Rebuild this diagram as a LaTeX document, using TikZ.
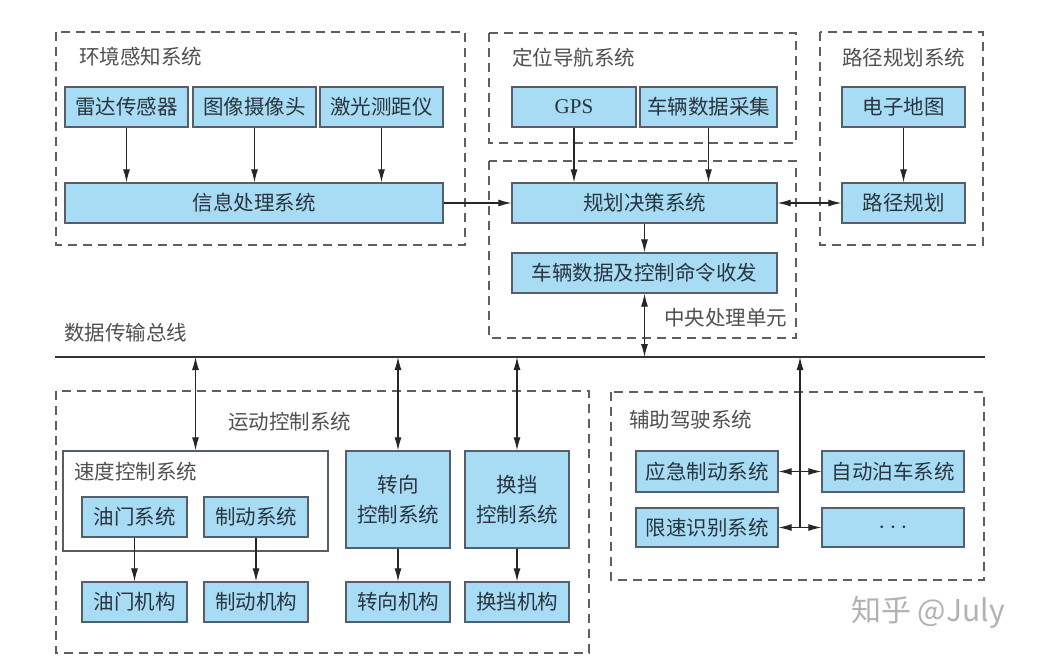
\documentclass[tikz,border=0pt]{standalone}
\usepackage{fontspec}
\setmainfont{Noto Sans CJK SC}
\newfontfamily\cjk{Noto Sans CJK SC}
\newfontfamily\serifgps{Liberation Serif}
\usetikzlibrary{arrows.meta}
\definecolor{boxfill}{RGB}{168,220,244}
\definecolor{boxline}{RGB}{85,95,105}
\definecolor{txt}{RGB}{40,52,62}
\definecolor{ttl}{RGB}{80,80,80}
\definecolor{dashc}{RGB}{95,95,95}
\tikzset{
  box/.style={draw=boxline, fill=boxfill, line width=1.3pt, inner sep=0pt, text=txt,
    font=\cjk\fontsize{20.5}{24}\selectfont, align=center},
  plainbox/.style={draw=boxline, fill=white, line width=1.3pt},
  group/.style={draw=dashc, line width=1.4pt, dash pattern=on 9pt off 6pt},
  ttlabel/.style={anchor=west, inner sep=0pt, text=ttl, font=\cjk\fontsize{20.5}{24}\selectfont},
  conn/.style={draw=black!85, line width=1.1pt, >={Latex[length=13pt,width=7pt]}},
  bus/.style={draw=black!80, line width=2.6pt}
}
\begin{document}
\begin{tikzpicture}[x=1pt,y=-1pt]
\useasboundingbox[fill=white] (0,0) rectangle (1041,660);

% dashed group frames
\draw[group] (56,32) rectangle (465,245);
\draw[group] (489,33) rectangle (796,143);
\draw[group] (489,161) rectangle (796,338);
\draw[group] (820,32) rectangle (983,245);
\draw[group] (56,391) rectangle (589,653);
\draw[group] (611,392) rectangle (984,580);

% group titles
\node[ttlabel] (tenv) at (79,57) {环境感知系统};
\node[ttlabel] (tloc) at (512,58) {定位导航系统};
\node[ttlabel] (tpath) at (842,58) {路径规划系统};
\node[ttlabel] (tcpu) at (664,318) {中央处理单元};
\node[ttlabel] (tbus) at (64,333) {数据传输总线};
\node[ttlabel] (tmot) at (228,422) {运动控制系统};
\node[ttlabel] (tass) at (629,420) {辅助驾驶系统};

% environment perception
\node[box, minimum width=123pt, minimum height=40pt] (radar) at (126.5,107) {雷达传感器};
\node[box, minimum width=123pt, minimum height=40pt] (camera) at (254.5,107) {图像摄像头};
\node[box, minimum width=123pt, minimum height=40pt] (lidar) at (381.5,107) {激光测距仪};
\node[box, minimum width=378pt, minimum height=40pt] (info) at (254,203) {信息处理系统};

% positioning / navigation
\node[box, minimum width=124pt, minimum height=40pt, font=\serifgps\fontsize{21}{24}\selectfont] (gps) at (574,107) {GPS};
\node[box, minimum width=137pt, minimum height=40pt] (vdata) at (708.5,107) {车辆数据采集};

% central processing
\node[box, minimum width=265pt, minimum height=40pt] (plan) at (644.5,203) {规划决策系统};
\node[box, minimum width=265pt, minimum height=40pt] (cmd) at (644.5,273) {车辆数据及控制命令收发};

% path planning
\node[box, minimum width=123pt, minimum height=40pt] (map) at (903.5,107) {电子地图};
\node[box, minimum width=123pt, minimum height=40pt] (route) at (903.5,203) {路径规划};

% bus
\coordinate (busL) at (55,357);
\coordinate (busR) at (985,357);
\draw[bus] (busL) -- (busR);

% motion control
\node[plainbox, minimum width=265pt, minimum height=100pt] (speed) at (195.5,501) {};
\node[ttlabel] (tspeed) at (74,472) {速度控制系统};
\node[box, minimum width=105pt, minimum height=40pt] (throttle) at (134.5,517) {油门系统};
\node[box, minimum width=104pt, minimum height=40pt] (brake) at (256,517) {制动系统};
\node[box, minimum width=105pt, minimum height=40pt] (throttleM) at (134.5,602) {油门机构};
\node[box, minimum width=104pt, minimum height=40pt] (brakeM) at (256,602) {制动机构};
\node[box, minimum width=104pt, minimum height=97pt, font=\cjk\fontsize{20.5}{30}\selectfont] (steer) at (398,499.5) {转向\\控制系统};
\node[box, minimum width=104pt, minimum height=97pt, font=\cjk\fontsize{20.5}{30}\selectfont] (gear) at (517,499.5) {换挡\\控制系统};
\node[box, minimum width=104pt, minimum height=40pt] (steerM) at (398,602) {转向机构};
\node[box, minimum width=104pt, minimum height=40pt] (gearM) at (517,602) {换挡机构};

% assisted driving
\node[box, minimum width=142pt, minimum height=41pt] (emerg) at (707,471.5) {应急制动系统};
\node[box, minimum width=142pt, minimum height=41pt] (park) at (893,471.5) {自动泊车系统};
\node[box, minimum width=142pt, minimum height=39pt] (limit) at (707,527.5) {限速识别系统};
\node[box, minimum width=142pt, minimum height=39pt] (dots) at (893,527.5) {\fontsize{24}{24}\selectfont$\cdots$};

% connectors: top part
\draw[conn,->] (radar.south) -- (radar.south |- info.north);
\draw[conn,->] (camera.south) -- (camera.south |- info.north);
\draw[conn,->] (lidar.south) -- (lidar.south |- info.north);
\draw[conn,->] (gps.south) -- (gps.south |- plan.north);
\draw[conn,->] (vdata.south) -- (vdata.south |- plan.north);
\draw[conn,->] (plan.south) -- (cmd.north);
\draw[conn,->] (map.south) -- (route.north);
\draw[conn,->] (info.east) -- (plan.west);
\draw[conn,<->] (plan.east) -- (route.west);
\draw[conn,<->] (cmd.south) -- (cmd.south |- busL);

% connectors: bus to motion control
\draw[conn,<->] (speed.north |- busL) -- (speed.north);
\draw[conn,<->] (steer.north |- busL) -- (steer.north);
\draw[conn,<->] (gear.north |- busL) -- (gear.north);
\draw[conn,->] (throttle.south) -- (throttleM.north);
\draw[conn,->] (brake.south) -- (brakeM.north);
\draw[conn,->] (steer.south) -- (steerM.north);
\draw[conn,->] (gear.south) -- (gearM.north);

% assisted driving hub
\coordinate (hubB) at (800,527.5);
\draw[conn,->] (hubB) -- (hubB |- busL);
\draw[conn,<->] (emerg.east) -- (park.west);
\draw[conn,<->] (limit.east) -- (dots.west);

% watermark
\node[anchor=west, inner sep=0pt, text=black!30, font=\cjk\fontsize{30}{34}\selectfont] (wm) at (851,612) {知乎 @July};
\end{tikzpicture}
\end{document}
